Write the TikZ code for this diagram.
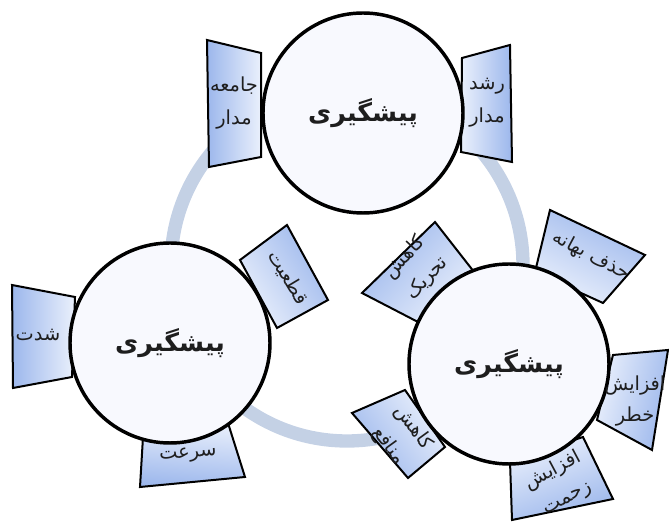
\documentclass[tikz,border=0pt]{standalone}
\usepackage{fontspec}
\newfontfamily\fa[Script=Arabic]{DejaVu Sans}
\TeXXeTstate=1
\definecolor{ringc}{RGB}{196,209,229}
\definecolor{tabdark}{RGB}{156,183,236}
\definecolor{tablight}{RGB}{234,240,252}
\definecolor{circfill}{RGB}{248,249,254}
\definecolor{txt}{RGB}{30,30,30}
\begin{document}
\begin{tikzpicture}[x=0.75pt,y=-0.75pt,
  tab/.style={draw=black, line width=1.5pt, line join=miter, top color=tabdark, bottom color=tablight, shading angle=#1},
  bigc/.style={circle, draw=black, line width=2.6pt, fill=circfill, inner sep=0pt, minimum size=150pt, text=txt, font=\fa\bfseries\fontsize{19}{21}\selectfont},
  tabtext/.style={text=txt, align=center, inner sep=0pt, font=\fa\fontsize{14.5}{23}\selectfont}]
\useasboundingbox (0,0) rectangle (669,523);
% ring
\draw[ringc, line width=10pt] (347,265) circle[radius=176];
% tabs
\draw[tab=90]   (207,40) -- (209,167) -- (261,157) -- (261,53) -- cycle;
\draw[tab=-90]  (510,45) -- (512,162) -- (461,152) -- (462,58) -- cycle;
\draw[tab=90]   (12,285) -- (13,388) -- (72,377) -- (75,297) -- cycle;
\draw[tab=-57]  (240,260) -- (287,225) -- (328,300) -- (277,328) -- cycle;
\draw[tab=175]  (143,437) -- (140,487) -- (245,477) -- (228,423) -- cycle;
\draw[tab=47]   (362,293) -- (435,222) -- (478,277) -- (418,322) -- cycle;
\draw[tab=-27]  (535,272) -- (550,210) -- (645,255) -- (603,303) -- cycle;
\draw[tab=-103] (613,355) -- (668,350) -- (652,450) -- (597,420) -- cycle;
\draw[tab=-160] (510,461) -- (583,437) -- (613,499) -- (512,520) -- cycle;
\draw[tab=126]  (352,413) -- (405,390) -- (445,447) -- (408,478) -- cycle;
% circles
\node[bigc] (c1) at (363,113) {\beginR پیشگیری\endR};
\node[bigc] (c2) at (170,343) {\beginR پیشگیری\endR};
\node[bigc] (c3) at (509,364) {\beginR پیشگیری\endR};
% tab texts
\node[tabtext, font=\fa\fontsize{14.5}{25}\selectfont] (t1) at (234,103) {\beginR جامعه\endR\\\beginR مدار\endR};
\node[tabtext, font=\fa\fontsize{14.5}{25}\selectfont] (t2) at (487,103) {\beginR رشد\endR\\\beginR مدار\endR};
\node[tabtext] (t3) at (38,335) {\beginR شدت\endR};
\node[tabtext, rotate=-59] (t4) at (288,278) {\beginR قطعیت\endR};
\node[tabtext, rotate=4] (t5) at (188,455) {\beginR سرعت\endR};
\node[tabtext, rotate=47] (t6) at (416,268) {\beginR کاهش\endR\\\beginR تحریک\endR};
\node[tabtext, rotate=-28] (t7) at (591,256) {\beginR حذف بهانه\endR};
\node[tabtext] (t8) at (635,401) {\beginR افزایش\endR\\\beginR خطر\endR};
\node[tabtext, rotate=28] (t9) at (560,484) {\beginR افزایش\endR\\\beginR زحمت\endR};
\node[tabtext, rotate=-54] (t10) at (401,437) {\beginR کاهش\endR\\\beginR منافع\endR};
\end{tikzpicture}
\end{document}
